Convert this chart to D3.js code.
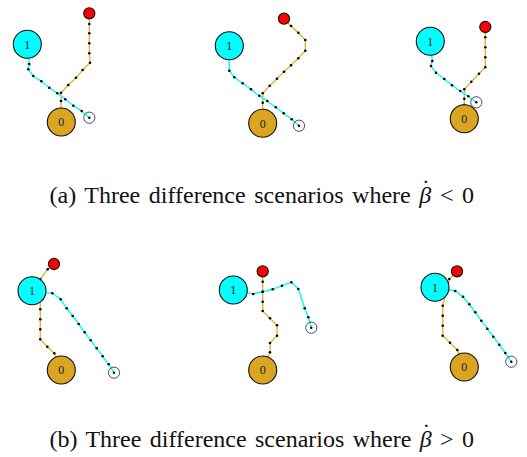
<!DOCTYPE html>
<html>
<head>
<meta charset="utf-8">
<style>
  body { margin: 0; background: #fff; }
  text { font-family: "Liberation Serif", "Times New Roman", serif; }
</style>
</head>
<body>
<svg id="fig" width="527" height="457"></svg>
<script src="https://cdn.jsdelivr.net/npm/d3@7"></script>
<script>

// panels: local coordinates inside each 180 x 150 cell
var panelNames = ["a1", "a2", "a3", "b1", "b2", "b3"],
    panelOrigin = [[0, 0], [180, 0], [360, 0], [0, 240], [180, 240], [360, 240]];

var redAgent = [[89.3, 13.3], [104, 18.7], [125.3, 27], [54, 24], [82.7, 31.3], [97, 31.3]],
    node1 = [[27.3, 44.3], [49.3, 45.7], [70.3, 41.3], [32, 50.7], [53.3, 50], [75, 47.3]],
    node0 = [[61.3, 122], [82.7, 123.3], [104.3, 118.7], [61.3, 130], [82.7, 130], [104.3, 127]],
    goal = [[89.3, 117.7], [119, 125.7], [116.3, 102.3], [114, 132.7], [131.3, 87.7], [151.3, 121.7]];

var goldPaths = [
  [[89.3, 13.3], [89.3, 24], [89.3, 33.3], [89.3, 43.3], [89.3, 53.3], [90, 62.7], [82.7, 70], [76, 77.7], [68.3, 85], [61, 92.7], [61, 101], [61.3, 122]],
  [[104, 18.7], [111, 26], [118.3, 32.7], [125.3, 40], [125.3, 50.7], [118.3, 58.3], [111, 65.3], [104, 71.7], [97, 78.7], [89.7, 85.7], [82.7, 93.3], [82.7, 102.7], [82.7, 123.3]],
  [[125.3, 27], [125.3, 37.3], [125.3, 47.3], [125.3, 57.3], [125.3, 67.3], [119, 73.7], [111.3, 81.7], [104.3, 89.3], [104.3, 98.7], [104.3, 105], [104.3, 118.7]],
  [[54, 24], [47.7, 29.3], [40.3, 39.3], [40.3, 69.3], [40.3, 79.3], [40.3, 89.3], [40.3, 99.3], [47.3, 106.7], [54.3, 113.3], [61.3, 130]],
  [[82.7, 31.3], [82.7, 41.7], [82.7, 51.7], [82.7, 61.7], [82.7, 71], [90, 78.3], [97, 85.3], [97, 95.7], [90, 103], [90, 112.3], [82.7, 130]],
  [[97, 31.3], [89.3, 39], [82.7, 65.7], [82.7, 75.7], [82.7, 85.7], [82.7, 95.7], [90, 102.7], [97.3, 110], [104.3, 127]]
];

var cyanPaths = [
  [[27.3, 44.3], [29.3, 64], [28.3, 69.3], [33.3, 76], [41.3, 81.3], [49.3, 87.7], [57.3, 93.3], [65.3, 99.3], [73.3, 105.7], [81.7, 111], [89.3, 117.7]],
  [[49.3, 45.7], [49.3, 70.7], [54.3, 77.3], [62.7, 83.3], [71, 89.3], [79.3, 95.7], [87.3, 101], [95.7, 107.3], [103.7, 113.3], [111.7, 119.3], [119, 125.7]],
  [[70.3, 41.3], [72.3, 61], [71, 66], [76, 72.7], [84.3, 79], [92, 85.3], [100.3, 91], [108.3, 96.3], [116.3, 102.3]],
  [[32, 50.7], [52.3, 53.3], [60.7, 59.3], [66.7, 68.3], [72.7, 76], [78.7, 84], [84.7, 92.3], [90.7, 100.3], [96.7, 108.3], [102.7, 116.3], [108.7, 124.3], [114, 132.7]],
  [[53.3, 50], [73.3, 54], [82.7, 51.7], [92.7, 49.3], [102, 45.7], [111.3, 42.3], [118.3, 49], [124.7, 68.3], [128.3, 77.3], [131.3, 87.7]],
  [[75, 47.3], [95.3, 51], [103, 56.7], [109.3, 64.3], [115.3, 72.3], [121.3, 80.7], [127.3, 88.7], [133.3, 96.7], [139.3, 104.7], [145.3, 113], [151.3, 121.7]]
];

var captions = [
  {label: "(a) Three difference scenarios where ", sym: "\u03b2", rest: " < 0", y: 202.5},
  {label: "(b) Three difference scenarios where ", sym: "\u03b2", rest: " > 0", y: 447}
];

var svg = d3.select("#fig");

panelNames.forEach(function(name, i) {
  var o = panelOrigin[i];
  var x = d3.scaleLinear().domain([0, 180]).range([o[0], o[0] + 180]),
      y = d3.scaleLinear().domain([0, 150]).range([o[1], o[1] + 150]);
  var line = d3.line().x(function(d) { return x(d[0]); }).y(function(d) { return y(d[1]); });
  var g = svg.append("g").attr("class", "panel-" + name);

  g.append("path")
      .datum(goldPaths[i])
      .attr("fill", "none")
      .attr("stroke", "#e8b23a")
      .attr("stroke-width", 1.4)
      .attr("d", line);

  g.append("path")
      .datum(cyanPaths[i])
      .attr("fill", "none")
      .attr("stroke", "#00ffff")
      .attr("stroke-width", 1.4)
      .attr("d", line);

  var dots = goldPaths[i].slice(1, -1).concat(cyanPaths[i].slice(1, -1));
  g.selectAll(".wp")
    .data(dots)
    .enter().append("circle")
      .attr("class", "wp")
      .attr("cx", function(d) { return x(d[0]); })
      .attr("cy", function(d) { return y(d[1]); })
      .attr("r", 1.3)
      .attr("fill", "#000");

  // goal marker
  g.append("circle")
      .attr("cx", x(goal[i][0]))
      .attr("cy", y(goal[i][1]))
      .attr("r", 5.6)
      .attr("fill", "none")
      .attr("stroke", "#222")
      .attr("stroke-width", 0.8);
  g.append("circle")
      .attr("cx", x(goal[i][0]))
      .attr("cy", y(goal[i][1]))
      .attr("r", 1.2)
      .attr("fill", "#000");

  var nodes = [
    {p: node1[i], r: 14, fill: "#00ffff", label: "1"},
    {p: node0[i], r: 14, fill: "#daa520", label: "0"},
    {p: redAgent[i], r: 5.6, fill: "#ff0000", label: ""}
  ];

  var ng = g.selectAll(".node")
    .data(nodes)
    .enter().append("g")
      .attr("class", "node")
      .attr("transform", function(d) { return "translate(" + x(d.p[0]) + "," + y(d.p[1]) + ")"; });

  ng.append("circle")
      .attr("r", function(d) { return d.r; })
      .attr("fill", function(d) { return d.fill; })
      .attr("stroke", "#111")
      .attr("stroke-width", 1.1);

  ng.append("text")
      .attr("text-anchor", "middle")
      .attr("dy", "0.35em")
      .attr("font-size", 12)
      .attr("fill", "#222")
      .text(function(d) { return d.label; });
});

// captions, fitted over 49..474 like the justified original
var capLeft = 49.5, capRight = 474;
captions.forEach(function(c) {
  var t = svg.append("text")
      .attr("x", capLeft)
      .attr("y", c.y)
      .attr("font-size", 24)
      .attr("fill", "#111");
  t.append("tspan").text(c.label);
  var b = t.append("tspan").attr("font-style", "italic").text(c.sym);
  t.append("tspan").text(c.rest);

  var full = c.label + c.sym + c.rest,
      nSpaces = full.split(" ").length - 1,
      w = t.node().getComputedTextLength();
  t.attr("word-spacing", (capRight - capLeft - w) / nSpaces);

  // dot over beta, in the same text element
  var labelW = t.node().getSubStringLength(0, c.label.length),
      betaW = b.node().getComputedTextLength(),
      bx = capLeft + labelW + betaW / 2;
  t.append("tspan")
      .attr("x", bx + 0.5)
      .attr("y", c.y - 7)
      .attr("text-anchor", "middle")
      .text("\u02d9");
});

</script>
</body>
</html>
